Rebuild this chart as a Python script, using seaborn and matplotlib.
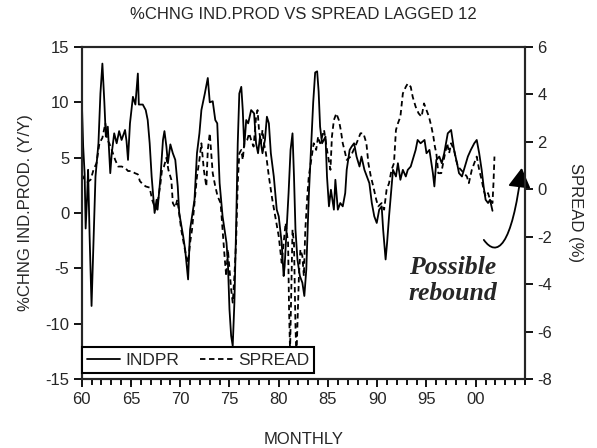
import matplotlib as mpl

mpl.use("Agg")

import matplotlib.pyplot as plt
import pandas as pd
import seaborn as sns
from matplotlib.patches import FancyArrowPatch
from matplotlib.path import Path
from matplotlib.ticker import FixedLocator, FuncFormatter, MultipleLocator

# INDPR, % change y/y (left axis)
indpr_year = [
    60.0, 60.15, 60.3, 60.4, 60.55, 60.65, 60.8, 61.0, 61.15, 61.4, 61.7, 61.9,
    62.1, 62.3, 62.45, 62.65, 62.9, 63.05, 63.3, 63.55, 63.8, 64.05, 64.4, 64.55,
    64.7, 64.9, 65.05, 65.2, 65.45, 65.7, 65.8, 66.2, 66.5, 66.7, 66.9, 67.1,
    67.4, 67.6, 67.7, 68.0, 68.25, 68.4, 68.6, 68.75, 69.0, 69.25, 69.5, 69.75,
    69.9, 70.3, 70.5, 70.8, 71.0, 71.1, 71.45, 71.7, 71.95, 72.15, 72.5, 72.8,
    73.0, 73.3, 73.56, 73.76, 74.0, 74.3, 74.7, 74.84, 75.0, 75.17, 75.33, 75.5,
    75.67, 75.84, 76.0, 76.2, 76.35, 76.5, 76.7, 76.9, 77.2, 77.5, 77.7, 77.9,
    78.1, 78.35, 78.6, 78.8, 79.0, 79.2, 79.5, 79.8, 80.0, 80.3, 80.5, 80.6,
    80.8, 81.0, 81.2, 81.4, 81.55, 81.7, 81.9, 82.15, 82.4, 82.6, 82.8, 83.05,
    83.3, 83.5, 83.7, 83.9, 84.05, 84.2, 84.4, 84.75, 84.9, 85.1, 85.3, 85.6,
    85.75, 86.0, 86.25, 86.5, 86.75, 86.9, 87.2, 87.4, 87.65, 87.9, 88.2, 88.4,
    88.7, 88.95, 89.2, 89.45, 89.7, 89.95, 90.2, 90.45, 90.6, 90.85, 91.0, 91.2,
    91.45, 91.6, 91.9, 92.1, 92.35, 92.6, 92.9, 93.1, 93.4, 93.6, 93.9, 94.1,
    94.4, 94.8, 95.0, 95.3, 95.65, 95.8, 96.0, 96.3, 96.55, 96.8, 97.16, 97.5,
    97.8, 98.1, 98.3, 98.6, 98.8, 99.2, 99.5, 99.85, 100.1, 100.35, 100.6, 100.8,
    101.0, 101.25, 101.45, 101.7,
]
indpr_value = [
    10.5, 6.0, 3.5, -1.4, 1.5, 3.9, -2.0, -8.4, -4.0, 3.3, 6.3, 10.8,
    13.5, 10.0, 6.9, 7.8, 3.6, 5.4, 7.2, 6.3, 7.4, 6.6, 7.5, 6.5,
    4.8, 8.1, 9.3, 10.5, 9.8, 12.6, 9.8, 9.8, 9.3, 8.4, 6.3, 3.3,
    0.0, 1.2, 0.3, 3.3, 6.6, 7.4, 6.0, 4.5, 6.2, 5.4, 4.8, 2.4,
    0.0, -2.1, -3.3, -6.0, -1.5, -0.9, 1.2, 5.4, 7.2, 9.3, 10.8, 12.2,
    10.0, 10.1, 8.4, 8.1, 2.7, -0.3, -2.7, -4.5, -8.7, -11.1, -12.0, -8.1,
    -1.5, 6.3, 10.8, 11.4, 9.3, 6.0, 8.4, 8.1, 9.3, 9.0, 6.3, 5.4,
    6.9, 5.4, 6.6, 8.7, 8.1, 5.4, 3.3, 0.3, -0.3, -2.7, -5.7, -4.8,
    -1.5, 1.8, 5.7, 7.2, 3.3, -1.5, -4.2, -5.7, -6.3, -7.5, -5.1, 1.5,
    6.3, 10.0, 12.7, 12.8, 11.0, 7.8, 6.3, 6.9, 3.3, 0.6, 2.1, 0.3,
    3.0, 0.3, 0.9, 0.6, 1.8, 3.9, 5.7, 6.0, 6.3, 5.1, 4.2, 5.1,
    3.9, 3.3, 2.7, 0.9, -0.3, -0.9, 0.3, 0.6, -1.5, -4.2, -2.7, -0.3,
    2.4, 3.9, 3.3, 4.5, 3.0, 3.9, 3.3, 3.9, 4.2, 4.8, 5.7, 6.6,
    6.3, 6.6, 5.4, 5.7, 3.6, 2.4, 4.8, 5.1, 4.5, 5.4, 7.2, 7.5,
    5.7, 4.5, 3.6, 3.3, 3.9, 5.1, 5.7, 6.3, 6.6, 5.4, 3.9, 2.4,
    1.2, 0.9, 1.2, 0.2,
]

# SPREAD lagged 12 months, % (right axis)
spread_year = [
    60.0, 60.3, 60.6, 60.9, 61.2, 61.5, 61.8, 62.1, 62.4, 62.6, 62.8, 63.05,
    63.4, 63.7, 64.05, 64.4, 64.7, 65.05, 65.4, 65.7, 65.9, 66.2, 66.5, 66.9,
    67.15, 67.5, 67.7, 68.0, 68.15, 68.35, 68.6, 68.8, 69.1, 69.25, 69.5, 69.7,
    69.85, 70.1, 70.35, 70.6, 70.8, 71.0, 71.2, 71.45, 71.7, 71.95, 72.15, 72.4,
    72.65, 72.8, 73.0, 73.15, 73.3, 73.56, 73.8, 74.1, 74.3, 74.5, 74.67, 74.84,
    75.0, 75.17, 75.33, 75.5, 75.67, 75.84, 76.0, 76.2, 76.35, 76.5, 76.8, 77.0,
    77.2, 77.45, 77.7, 77.85, 78.0, 78.2, 78.35, 78.5, 78.7, 79.0, 79.35, 79.7,
    80.0, 80.3, 80.5, 80.7, 80.95, 81.05, 81.15, 81.3, 81.4, 81.55, 81.7, 81.8,
    82.05, 82.2, 82.4, 82.55, 82.7, 82.9, 83.05, 83.3, 83.55, 83.8, 84.0, 84.2,
    84.6, 84.9, 85.25, 85.4, 85.6, 85.85, 86.1, 86.3, 86.5, 86.75, 86.9, 87.3,
    87.6, 87.9, 88.3, 88.6, 88.9, 89.1, 89.35, 89.6, 89.9, 90.1, 90.45, 90.7,
    90.95, 91.2, 91.45, 91.7, 91.9, 92.1, 92.35, 92.6, 92.9, 93.1, 93.4, 93.6,
    93.9, 94.2, 94.5, 94.75, 95.0, 95.25, 95.5, 95.7, 95.85, 96.0, 96.2, 96.5,
    96.75, 97.1, 97.3, 97.5, 97.8, 98.0, 98.2, 98.5, 98.8, 99.1, 99.3, 99.6,
    99.85, 100.1, 100.35, 100.6, 100.8, 101.0, 101.25, 101.45, 101.7, 101.8, 101.9,
]
spread_value = [
    0.63, 0.40, 0.31, 0.40, 0.82, 1.10, 1.94, 2.17, 2.78, 2.08, 1.94, 1.66,
    1.24, 0.96, 0.96, 0.91, 0.77, 0.77, 0.68, 0.63, 0.35, 0.21, 0.12, 0.07,
    -0.44, -0.86, -0.58, 0.26, 0.82, 0.96, 1.33, 0.82, 0.40, -0.58, -0.77, -0.44,
    -0.86, -1.70, -2.26, -2.82, -3.10, -2.26, -1.70, -0.58, 0.54, 1.24, 1.94, 0.82,
    0.12, 1.66, 2.36, 1.52, 0.68, 0.12, -0.30, -0.58, -1.70, -2.82, -3.66, -2.54,
    -3.38, -4.22, -4.78, -3.66, -2.26, 0.26, 1.52, 1.66, 1.24, 1.94, 2.08, 2.36,
    2.08, 1.80, 3.06, 3.34, 2.50, 1.94, 2.50, 1.94, 1.52, 0.54, -0.44, -1.28,
    -1.98, -3.10, -2.26, -1.42, -2.26, -5.06, -6.83, -3.66, -1.70, -2.26, -5.76, -7.07,
    -3.66, -2.54, -2.82, -3.66, -1.70, -0.30, 0.54, 1.24, 1.94, 1.66, 2.22, 1.94,
    2.50, 1.66, 0.82, 2.22, 2.92, 3.20, 2.92, 2.50, 1.94, 1.52, 1.24, 1.38,
    1.66, 1.94, 2.36, 2.36, 1.94, 1.10, 0.54, 0.12, -0.44, -0.72, -0.58, -0.86,
    -0.02, 0.26, 0.82, 1.10, 2.50, 2.78, 3.06, 4.04, 4.32, 4.46, 4.32, 3.90,
    3.48, 3.20, 3.06, 3.62, 3.34, 3.06, 2.64, 2.22, 1.80, 1.52, 0.68, 0.68,
    1.24, 1.94, 1.52, 1.94, 1.66, 1.24, 0.96, 0.82, 0.68, 0.54, 0.26, 0.82,
    1.10, 1.38, 0.82, 0.40, -0.02, -0.30, -0.16, -0.44, -0.58, 0.26, 1.38,
]

x_ticks = [60, 65, 70, 75, 80, 85, 90, 95, 100]

indpr = pd.DataFrame({"Year": indpr_year, "INDPR": indpr_value})
spread = pd.DataFrame({"Year": spread_year, "SPREAD": spread_value})

sns.set_style("ticks")
plt.rcParams["font.family"] = ["Liberation Sans", "DejaVu Sans"]
plt.rcParams["axes.linewidth"] = 1.5
plt.rcParams["axes.unicode_minus"] = False

fig = plt.figure(figsize=(5.97, 4.48), dpi=100)
ax = fig.add_axes([81.7 / 597, 1 - 379 / 448, (525 - 81.7) / 597, (379 - 47) / 448])
ax2 = ax.twinx()

sns.lineplot(data=indpr, x="Year", y="INDPR", ax=ax, color="black", lw=1.3,
             label="INDPR", legend=False)
sns.lineplot(data=spread, x="Year", y="SPREAD", ax=ax2, color="black", lw=1.3,
             linestyle=(0, (3, 2)), label="SPREAD", legend=False)

ax.set_xlim(60, 105)
ax.set_ylim(-15, 15)
ax2.set_ylim(-8, 6)
ax.xaxis.set_major_locator(FixedLocator(x_ticks))
ax.xaxis.set_minor_locator(MultipleLocator(1))
ax.xaxis.set_major_formatter(FuncFormatter(lambda v, _: f"{int(round(v)) % 100:02d}"))
ax.yaxis.set_major_locator(MultipleLocator(5))
ax2.yaxis.set_major_locator(MultipleLocator(2))

tick_kw = dict(direction="out", color="black", labelsize=12, width=1.3)
ax.tick_params(axis="x", which="major", length=6, pad=3, **tick_kw)
ax.tick_params(axis="x", which="minor", length=4, width=1.3, direction="out", color="black")
ax.tick_params(axis="y", which="major", length=6, pad=3, **tick_kw)
ax2.tick_params(axis="y", which="major", length=6, pad=3, **tick_kw)

ax.set_xlabel("MONTHLY", fontsize=12, labelpad=18)
ax.set_ylabel("%CHNG IND.PROD. (Y/Y)", fontsize=12, labelpad=9)
ax2.set_ylabel("SPREAD (%)", fontsize=12, rotation=270, labelpad=22)
ax.set_title("%CHNG IND.PROD VS SPREAD LAGGED 12", fontsize=12, pad=20)

for spine in ax2.spines.values():
    spine.set_linewidth(1.5)

# note and curved arrow
ax.text(97.68, -6.1, "Possible\nrebound", ha="center", va="center", fontsize=18.5,
        fontweight="bold", fontstyle="italic", family=["Liberation Serif", "DejaVu Serif"],
        linespacing=1.2)
arrow_path = Path(
    [(100.82, -2.43), (102.14, -4.06), (103.66, -3.16), (104.67, 4.07)],
    [Path.MOVETO, Path.CURVE4, Path.CURVE4, Path.CURVE4],
)
arrow = FancyArrowPatch(path=arrow_path, arrowstyle="-|>,head_length=1.2,head_width=0.7",
                        mutation_scale=10, color="black", lw=1.3, shrinkA=0, shrinkB=0,
                        transform=ax.transData, clip_on=False)
ax.add_patch(arrow)

handles = ax.get_lines()[:1] + ax2.get_lines()[:1]
leg = ax2.legend(handles, ["INDPR", "SPREAD"], loc="lower left", bbox_to_anchor=(0, 0.018),
                 borderaxespad=0, ncol=2, fontsize=12.5, frameon=True, fancybox=False,
                 handlelength=1.9, handletextpad=0.3, columnspacing=1.2, borderpad=0.3)
leg.get_frame().set_edgecolor("black")
leg.get_frame().set_linewidth(1.5)
leg.get_frame().set_alpha(1)

fig.savefig("out.png", dpi=100)
